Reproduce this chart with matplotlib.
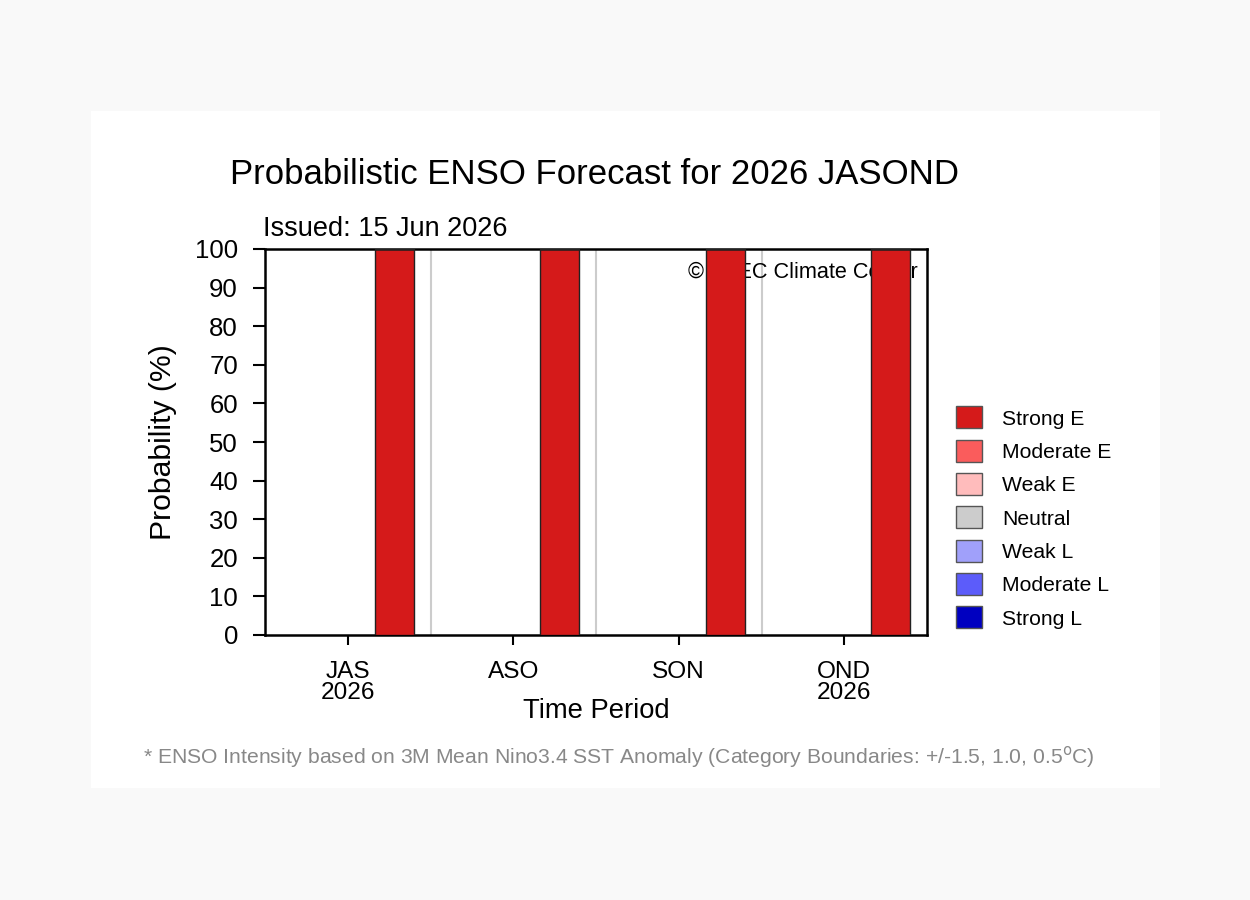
import numpy as np
import matplotlib.pyplot as plt
from matplotlib.patches import Rectangle

plt.rcParams['font.family'] = ['Liberation Sans', 'DejaVu Sans']

# data
periods = ['JAS\n2026', 'ASO', 'SON', 'OND\n2026']
categories = ['Strong E', 'Moderate E', 'Weak E', 'Neutral', 'Weak L', 'Moderate L', 'Strong L']
colors = ['#d51a1a', '#fa5c5c', '#ffbcbc', '#cccccc', '#a0a0fa', '#5c5cfa', '#0000c0']
probs = {
    'Strong E':   [100, 100, 100, 100],
    'Moderate E': [0, 0, 0, 0],
    'Weak E':     [0, 0, 0, 0],
    'Neutral':    [0, 0, 0, 0],
    'Weak L':     [0, 0, 0, 0],
    'Moderate L': [0, 0, 0, 0],
    'Strong L':   [0, 0, 0, 0],
}

fig = plt.figure(figsize=(12.5, 9), dpi=100, facecolor='#f9f9f9')
fig.patches.append(Rectangle((91/1250, 1-788/900), (1160-91)/1250, (788-111)/900,
                             transform=fig.transFigure, facecolor='white',
                             edgecolor='none', zorder=-5))

ax = fig.add_axes([265/1250, 1-635/900, (927-265)/1250, (635-249)/900])

x = np.arange(len(periods))
bottom = np.zeros(len(periods))
handles = []
for cat, col in zip(categories, colors):
    vals = np.array(probs[cat], dtype=float)
    b = ax.bar(x + 0.28, vals, width=0.236, bottom=bottom, color=col,
               edgecolor='#222222', linewidth=1.0, zorder=3, label=cat)
    handles.append(b)
    bottom += vals

for xv in x[:-1] + 0.5:
    ax.axvline(xv, color='#cccccc', linewidth=1.5, zorder=1)

ax.text(0.986, 0.94, '\u00a9 APEC Climate Center', transform=ax.transAxes,
        ha='right', va='center', fontsize=15.6, zorder=2)

ax.set_xlim(-0.5, len(periods) - 0.5)
ax.set_ylim(0, 100)
ax.set_yticks(np.arange(0, 101, 10))
ax.set_xticks(x)
ax.set_xticklabels(periods, fontsize=17.6, linespacing=0.92)
ax.tick_params(axis='y', labelsize=18.5, length=8.5, width=1.5, direction='out', pad=11)
ax.tick_params(axis='x', length=7, width=1.5, direction='out', pad=12)
for s in ax.spines.values():
    s.set_linewidth(1.8)

ax.set_ylabel('Probability (%)', fontsize=21.7)
ax.yaxis.set_label_coords((163-265)/662, 0.5)
ax.yaxis.label.set_va('center')
ax.set_xlabel('Time Period', fontsize=19.7)
ax.xaxis.set_label_coords(0.5, (635-711)/386)
ax.xaxis.label.set_va('center')

fig.text(594/1250, 1-174/900, 'Probabilistic ENSO Forecast for 2026 JASOND',
         ha='center', va='center', fontsize=25)
fig.text(263/1250, 1-229/900, 'Issued: 15 Jun 2026', ha='left', va='center', fontsize=19.5)
fig.text(143/1250, 1-757/900,
         '* ENSO Intensity based on 3M Mean Nino3.4 SST Anomaly (Category Boundaries: +/-1.5, 1.0, 0.5$^{\\rm o}$C)',
         ha='left', va='center', fontsize=15.2, color='#888888')

leg = fig.legend(handles=handles, labels=categories, loc='upper left',
                 bbox_to_anchor=(948/1250, 1-398/900), frameon=False,
                 fontsize=15.2, handlelength=1.23, handleheight=1.23,
                 labelspacing=0.53, handletextpad=0.95, borderaxespad=0)
for h in leg.legend_handles:
    h.set_edgecolor('#555555')

fig.savefig('out.png', dpi=100, facecolor=fig.get_facecolor())
